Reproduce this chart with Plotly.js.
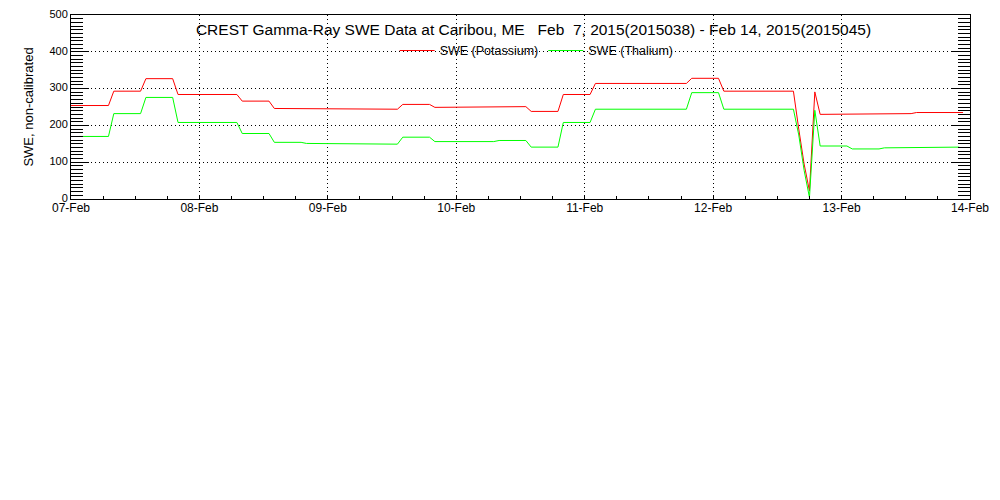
<!DOCTYPE html>
<html>
<head>
<meta charset="utf-8">
<script src="https://cdn.plot.ly/plotly-3.0.1.min.js"></script>
<style>html,body{margin:0;padding:0;background:#fff;}#chart{width:1000px;height:500px;}</style>
</head>
<body>
<div id="chart"></div>
<script>
// Hours since 2015-02-07 00:00 and SWE values (non-calibrated)
const hoursPotassium = [0, 7, 8, 13, 14, 19, 20, 31, 32, 37, 38, 55, 56, 61, 62, 67, 68, 79, 80, 85, 86, 91, 92, 97, 98, 115, 116, 121, 122, 135, 136, 137, 138, 139, 140, 151, 152, 157, 158, 166.7];
const swePotassium   = [254, 254, 293, 293, 327, 327, 284, 284, 266, 266, 246, 246, 244, 244, 257, 257, 249, 249, 251, 251, 238, 238, 284, 284, 314, 314, 328, 328, 293, 293, 190, 95, 22, 291, 230, 230, 232, 232, 235, 235];
const hoursThalium   = [1.5, 7, 8, 13, 14, 19, 20, 31, 32, 37, 38, 43, 44, 55, 56, 61, 62, 67, 68, 79, 80, 85, 86, 91, 92, 97, 98, 115, 116, 121, 122, 135, 136, 137, 138, 139, 140, 145, 146, 151, 152, 157, 158, 166];
const sweThalium     = [170, 170, 232, 232, 276, 276, 208, 208, 178, 178, 154, 154, 151, 151, 149, 149, 168, 168, 156, 156, 159, 159, 141, 141, 208, 208, 244, 244, 289, 289, 244, 244, 174, 78, 4, 241, 144, 144, 136, 136, 139, 139, 141, 141];
const seriesNames = ['SWE (Potassium)', 'SWE (Thalium)'];
const titleText = 'CREST Gamma-Ray SWE Data at Caribou, ME   Feb  7, 2015(2015038) - Feb 14, 2015(2015045)';
const yTitle = 'SWE, non-calibrated';

const t0 = Date.UTC(2015, 1, 7);
const toMs = h => t0 + h * 3600000;

const font = 'Liberation Sans, Arial, sans-serif';

const traces = [
  {x: hoursPotassium.map(toMs), y: swePotassium, type: 'scatter', mode: 'lines', name: seriesNames[0],
   line: {color: '#ff0000', width: 1}},
  {x: hoursThalium.map(toMs), y: sweThalium, type: 'scatter', mode: 'lines', name: seriesNames[1],
   line: {color: '#00ff00', width: 1}}
];

const layout = {
  width: 1000, height: 500,
  margin: {l: 71, r: 30, t: 15, b: 301, pad: 0},
  paper_bgcolor: '#fff', plot_bgcolor: '#fff',
  font: {family: font, color: '#000', size: 12},
  title: {text: titleText, font: {family: font, size: 15.5, color: '#000'},
          xref: 'container', x: 0.5335, xanchor: 'center', yref: 'container', y: 0.94, yanchor: 'middle'},
  showlegend: true,
  legend: {orientation: 'h', x: 0.36, xanchor: 'left', y: 0.805, yanchor: 'middle', itemwidth: 35,
           bgcolor: 'rgba(0,0,0,0)', font: {family: font, size: 12.5, color: '#000'}},
  xaxis: {
    type: 'date', range: [toMs(0), toMs(168)],
    tickformat: '%d-%b', dtick: 86400000, tick0: toMs(0),
    ticks: 'inside', ticklen: 3, tickcolor: '#000', tickwidth: 1,
    showline: true, linecolor: '#000', linewidth: 1, mirror: true,
    showgrid: true, gridcolor: '#000', gridwidth: 1, griddash: '1px,3px',
    zeroline: false, ticklabelstandoff: -2,
    tickfont: {family: font, size: 12, color: '#000'},
    minor: {dtick: 6 * 3600000, ticks: 'inside', ticklen: 3, tickcolor: '#000', showgrid: false}
  },
  yaxis: {
    range: [0, 500], dtick: 100, tick0: 0,
    ticks: 'inside', ticklen: 18, tickcolor: '#000', tickwidth: 1,
    showline: true, linecolor: '#000', linewidth: 1, mirror: 'ticks',
    showgrid: true, gridcolor: '#000', gridwidth: 1, griddash: '1px,3px',
    zeroline: false, ticklabelshift: -1,
    tickfont: {family: font, size: 11, color: '#000'},
    title: {text: yTitle, font: {family: font, size: 13, color: '#000'}, standoff: 12},
    minor: {dtick: 10, ticks: 'inside', ticklen: 12, tickcolor: '#000', showgrid: false}
  }
};

Plotly.newPlot('chart', traces, layout, {displayModeBar: false, staticPlot: true});
</script>
</body>
</html>
